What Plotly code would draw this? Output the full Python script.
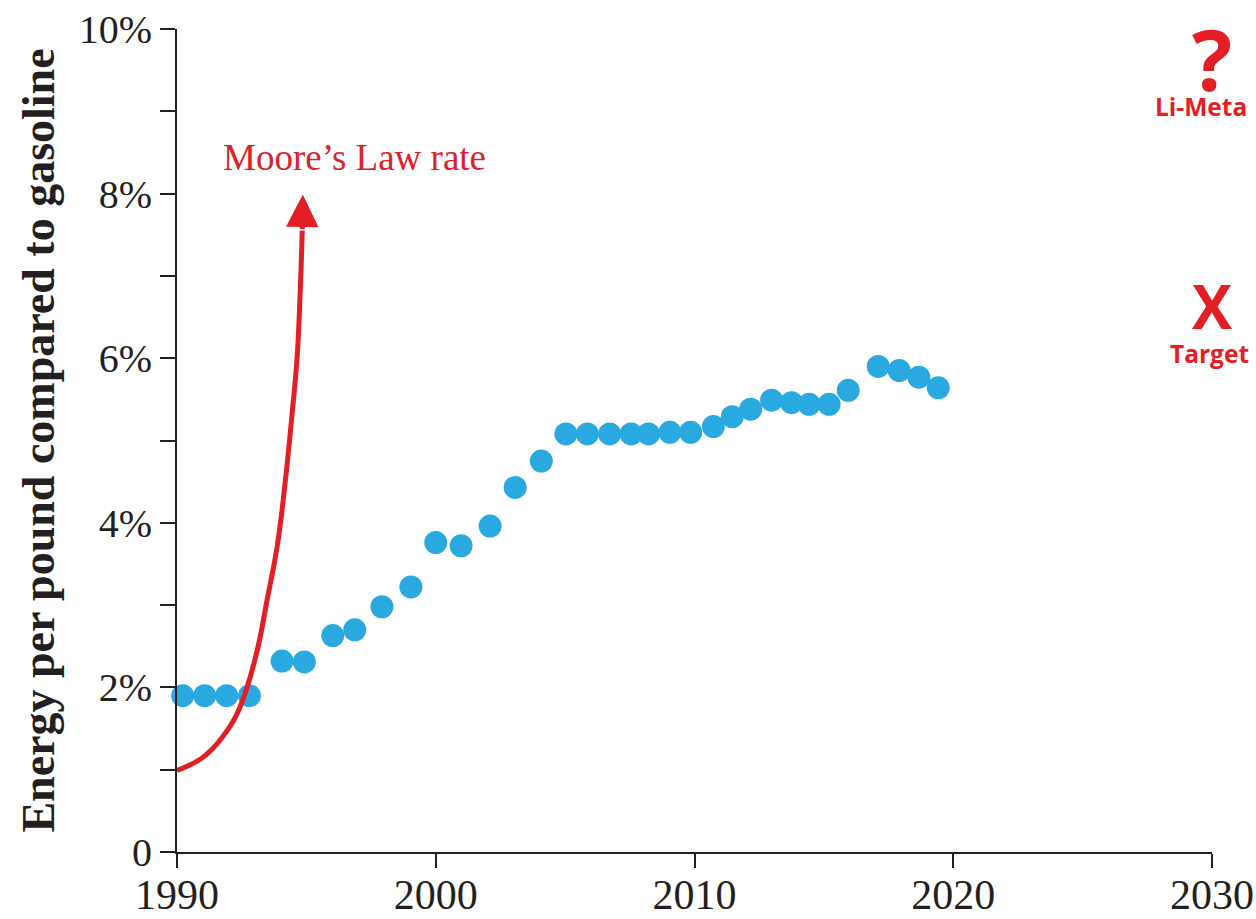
import plotly.graph_objects as go

# ---- data ----
battery_years = [1990.22, 1991.07, 1991.92, 1992.8, 1994.06, 1994.92, 1996.02, 1996.87,
                 1997.92, 1999.04, 2000.0, 2000.98, 2002.1, 2003.07, 2004.08, 2005.03,
                 2005.86, 2006.72, 2007.55, 2008.22, 2009.05, 2009.85, 2010.73, 2011.46,
                 2012.17, 2012.98, 2013.75, 2014.43, 2015.2, 2015.94, 2017.1, 2017.91,
                 2018.67, 2019.42]
battery_pct = [1.90, 1.90, 1.90, 1.90, 2.32, 2.31, 2.63, 2.70,
               2.98, 3.22, 3.76, 3.72, 3.96, 4.43, 4.75, 5.08,
               5.08, 5.08, 5.08, 5.08, 5.10, 5.10, 5.17, 5.29,
               5.38, 5.49, 5.46, 5.44, 5.44, 5.61, 5.90, 5.85,
               5.77, 5.64]

moore_years = [1990.0, 1990.91, 1991.42, 1991.81, 1992.19, 1992.58, 1993.1, 1993.48,
               1993.87, 1994.19, 1994.45, 1994.64, 1994.76, 1994.84, 1994.86]
moore_pct = [0.99, 1.13, 1.27, 1.42, 1.60, 1.88, 2.45, 3.06,
             3.71, 4.52, 5.33, 6.0, 6.8, 7.55, 7.99]

x_tickvals = [1990, 2000, 2010, 2020, 2030]
x_ticktext = ["1990", "2000", "2010", "2020", "2030"]
y_tickvals = [0, 1, 2, 3, 4, 5, 6, 7, 8, 9, 10]
y_ticktext = ["0", "", "2%", "", "4%", "", "6%", "", "8%", "", "10%"]

# (symbol, label, symbol y, label y, label x)
target_labels = [("?", "Li-Meta", 9.64, 9.06, 2029.57), ("X", "Target", 6.64, 6.06, 2029.92)]

RED = "#E31E24"
BLUE = "#29A9E0"
INK = "#231F20"
SERIF = "Liberation Serif, Times New Roman, serif"
SANS = "Open Sans, Arial, sans-serif"

fig = go.Figure()

fig.add_trace(go.Scatter(
    x=battery_years, y=battery_pct, mode="markers",
    marker=dict(size=23, color=BLUE, line=dict(width=0)),
    cliponaxis=False, showlegend=False, name="Battery energy density"))

fig.add_trace(go.Scatter(
    x=moore_years[:-1], y=moore_pct[:-1], mode="lines",
    line=dict(color=RED, width=5, shape="spline", smoothing=1.3),
    cliponaxis=False, showlegend=False, name="Moore's Law rate"))

annotations = [
    dict(x=moore_years[-1], y=moore_pct[-1], ax=moore_years[-2], ay=moore_pct[-2],
         xref="x", yref="y", axref="x", ayref="y", text="", showarrow=True,
         arrowhead=2, arrowsize=1.3, arrowwidth=5, arrowcolor=RED, standoff=0),
    dict(x=1996.87, y=8.44, xref="x", yref="y", text="Moore’s Law rate", showarrow=False,
         font=dict(family=SERIF, size=37, color="#DD2129"), xanchor="center", yanchor="middle"),
]
for sym, lab, ysym, ylab, xlab in target_labels:
    annotations.append(dict(x=2030, y=ysym, xref="x", yref="y", text="<b>%s</b>" % sym,
                            showarrow=False, xanchor="center", yanchor="middle",
                            font=dict(family=SANS, size=84 if sym == "?" else 60, color=RED)))
    annotations.append(dict(x=xlab, y=ylab, xref="x", yref="y", text="<b>%s</b>" % lab,
                            showarrow=False, xanchor="center", yanchor="middle",
                            font=dict(family=SANS, size=24.5, color=RED)))

fig.update_layout(
    width=1256, height=919,
    margin=dict(l=177, r=44, t=29, b=67, autoexpand=False),
    paper_bgcolor="white", plot_bgcolor="white",
    annotations=annotations,
    xaxis=dict(range=[1990, 2030], tickvals=x_tickvals, ticktext=x_ticktext, automargin=False,
               showgrid=False, zeroline=False, showline=True, linecolor=INK, linewidth=2,
               ticks="outside", ticklen=14, tickwidth=2, tickcolor=INK,
               ticklabeloverflow="allow", ticklabelstandoff=-9,
               tickfont=dict(family=SERIF, size=42, color=INK)),
    yaxis=dict(range=[0, 10], tickvals=y_tickvals, ticktext=y_ticktext, automargin=False,
               showgrid=False, zeroline=False, showline=True, linecolor=INK, linewidth=2,
               ticks="outside", ticklen=15, tickwidth=2, tickcolor=INK,
               ticklabeloverflow="allow",
               tickfont=dict(family=SERIF, size=40, color=INK),
               title=dict(text="<b>Energy per pound compared to gasoline</b>", standoff=10,
                          font=dict(family=SERIF, size=46, color=INK))),
)

# remove the browser's default 8px body margin so the figure fills the window exactly
fig.write_html("out.html",
               config={"displayModeBar": False},
               post_script="document.body.style.margin='0';"
                           "document.documentElement.style.overflow='hidden';")
